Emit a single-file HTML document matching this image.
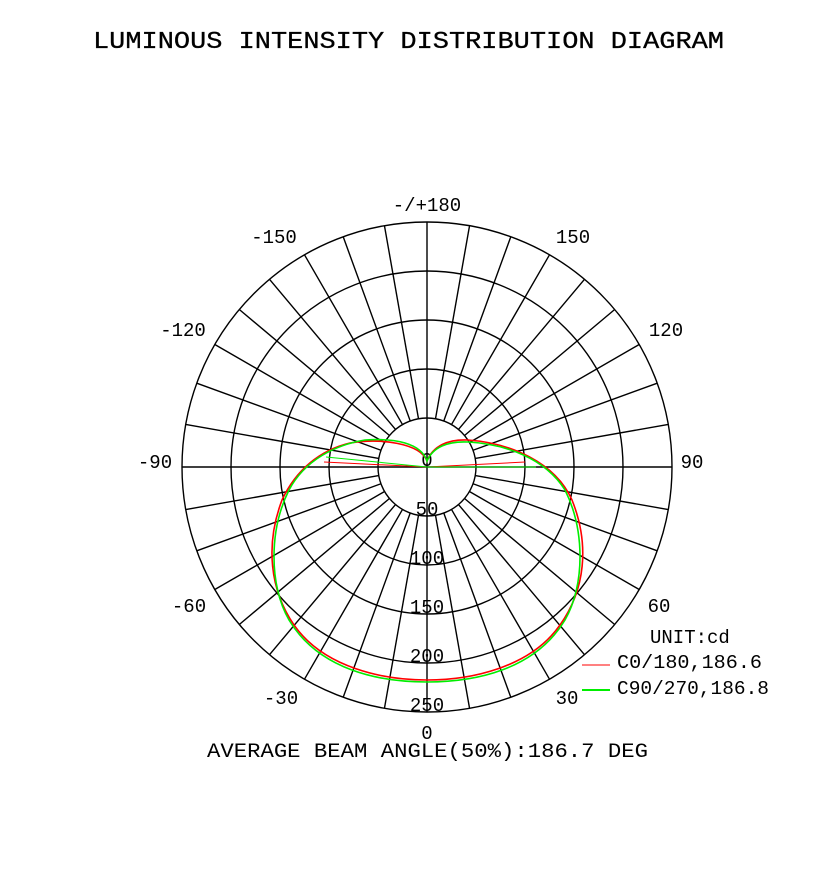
<!DOCTYPE html>
<html><head><style>body{margin:0;background:#fff}svg{display:block}</style></head><body>
<svg width="824" height="880" xmlns="http://www.w3.org/2000/svg" font-family="Liberation Mono, monospace">
<rect width="824" height="880" fill="#fff"/>
<text x="93" y="48" font-size="24" textLength="631" lengthAdjust="spacingAndGlyphs" stroke="#000" stroke-width="0.3">LUMINOUS INTENSITY DISTRIBUTION DIAGRAM</text>
<g fill="none" stroke="#000" stroke-width="1.4">
<circle cx="427" cy="467" r="49"/><circle cx="427" cy="467" r="98"/><circle cx="427" cy="467" r="147"/><circle cx="427" cy="467" r="196"/><circle cx="427" cy="467" r="245"/>
<line x1="182" y1="467" x2="672" y2="467"/><line x1="427" y1="222" x2="427" y2="712"/>
<g id="sp">
<line x1="476" y1="467" x2="672" y2="467" transform="rotate(10 427 467)"/>
<line x1="476" y1="467" x2="672" y2="467" transform="rotate(20 427 467)"/>
<line x1="476" y1="467" x2="672" y2="467" transform="rotate(30 427 467)"/>
<line x1="476" y1="467" x2="672" y2="467" transform="rotate(40 427 467)"/>
<line x1="476" y1="467" x2="672" y2="467" transform="rotate(50 427 467)"/>
<line x1="476" y1="467" x2="672" y2="467" transform="rotate(60 427 467)"/>
<line x1="476" y1="467" x2="672" y2="467" transform="rotate(70 427 467)"/>
<line x1="476" y1="467" x2="672" y2="467" transform="rotate(80 427 467)"/>
</g>
<use href="#sp" transform="rotate(90 427 467)"/><use href="#sp" transform="rotate(180 427 467)"/><use href="#sp" transform="rotate(270 427 467)"/>
</g>
<g font-size="19" text-anchor="middle" fill="#000">
<text x="427" y="211">-/+180</text><text x="573" y="243">150</text><text x="274" y="243">-150</text>
<text x="666" y="336">120</text><text x="183" y="336">-120</text><text x="692" y="468">90</text><text x="155" y="468">-90</text>
<text x="659" y="612">60</text><text x="189" y="612">-60</text><text x="567" y="704">30</text><text x="281" y="704">-30</text><text x="427" y="739">0</text>
<text x="427" y="466">0</text><text x="427" y="515">50</text><text x="427" y="564">100</text><text x="427" y="613">150</text><text x="427" y="662">200</text><text x="427" y="711">250</text>
</g>
<g fill="none" stroke-width="1.6">
<path stroke="#f00" d="M427,461 C433,446 448,439 468,440 C510,443 555,462 572,500 C590,545 585,590 560,625 C530,668 470,680 427,680 C384,680 324,668 294,625 C270,590 265,545 282,500 C296,470 320,450 350,443 C380,438 420,443 427,461 Z"/>
<path stroke="#f00" stroke-width="1" d="M324,462 L427,467 L525,462"/>
<path stroke="#0e0" d="M427,461 C433,447 448,441 468,442 C505,444 545,458 565,490 C585,530 585,585 565,620 C535,670 475,682 427,682 C379,682 319,670 289,620 C269,585 269,530 289,490 C305,460 335,445 365,440 C395,438 421,443 427,461 Z"/>
<path stroke="#0e0" stroke-width="1" d="M326,457 L427,467 L536,467"/>
</g>
<text x="650" y="643" font-size="19" fill="#000">UNIT:cd</text>
<line x1="582" y1="665" x2="610" y2="665" stroke="#f00" stroke-width="1"/>
<text x="617" y="668" font-size="19" fill="#000" textLength="145" lengthAdjust="spacingAndGlyphs">C0/180,186.6</text>
<line x1="582" y1="690" x2="610" y2="690" stroke="#0e0" stroke-width="2"/>
<text x="617" y="694" font-size="19" fill="#000" textLength="152" lengthAdjust="spacingAndGlyphs">C90/270,186.8</text>
<text x="207" y="757" font-size="20" textLength="441" lengthAdjust="spacingAndGlyphs" fill="#000">AVERAGE BEAM ANGLE(50%):186.7 DEG</text>
</svg>
</body></html>
